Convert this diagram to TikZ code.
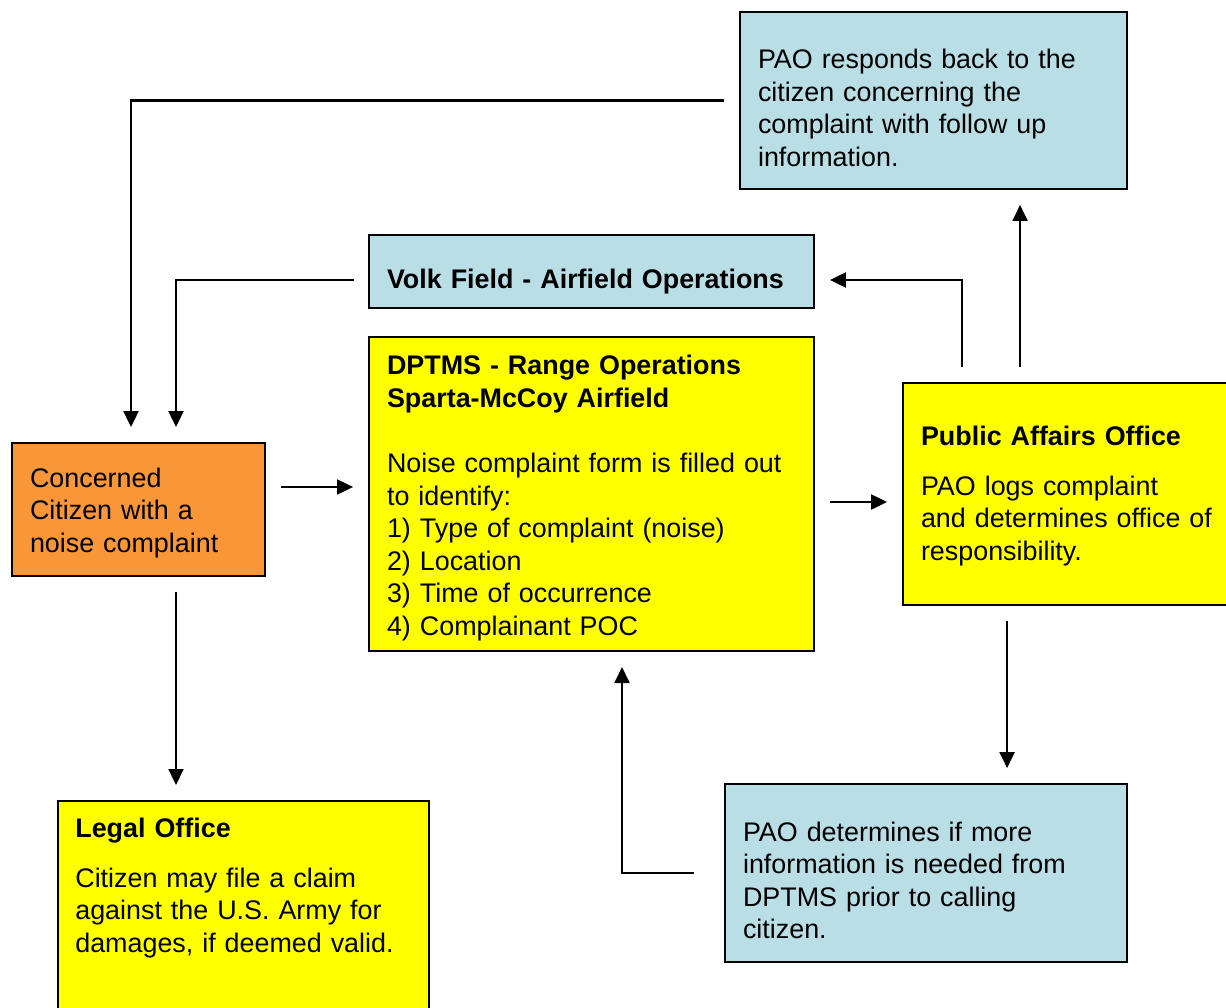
\documentclass[tikz,border=0pt]{standalone}
\usepackage{fontspec}
\setmainfont{Liberation Sans}
\usepackage{xcolor}
\usetikzlibrary{arrows.meta}
\definecolor{orangebox}{RGB}{248,150,56}
\definecolor{bluebox}{RGB}{185,222,229}
\definecolor{yellowbox}{RGB}{255,255,0}
\tikzset{
  txt/.style={align=left, font=\fontsize{15.3pt}{18.5pt}\selectfont},
  box/.style={txt, draw=black, line width=1.1pt, rectangle, inner xsep=0.36cm, inner ysep=0.2cm},
  push/.style={execute at begin node={\rule{0pt}{#1}}},
  arr/.style={black, line width=1.2pt, -{Triangle[length=0.32cm,width=0.3cm]}, shorten <=0.3cm, shorten >=0.3cm}
}

\begin{document}
\begin{tikzpicture}[x=0.02cm, y=-0.02cm]
\useasboundingbox (0,0) rectangle (1226,1007);
% boxes
\node[box, push=0.52cm, fill=orangebox, text width=4.34cm, minimum height=2.66cm] (citizen) at (138.5,509.5)
  {Concerned\\ Citizen with a\\ noise complaint};
\node[box, fill=bluebox, text width=8.18cm, minimum height=1.46cm, text height=0.8cm, text depth=0.1cm] (volk) at (591.5,271.5)
  {\textbf{Volk Field - Airfield Operations}};
\node[box, push=0.56cm, fill=yellowbox, text width=8.18cm, minimum height=6.24cm] (dptms) at (591.5,494)
  {\textbf{DPTMS - Range Operations}\\ \textbf{Sparta-McCoy Airfield}\\[0.66cm]
   Noise complaint form is filled out\\ to identify:\\ 1) Type of complaint (noise)\\
   2) Location\\ 3) Time of occurrence\\ 4) Complainant POC};
\node[box, push=0.68cm, fill=bluebox, text width=7.02cm, minimum height=3.54cm] (paofollow) at (933.5,100.5)
  {PAO responds back to the\\ citizen concerning the\\ complaint with follow up\\ information.};
\node[box, push=0.48cm, fill=yellowbox, text width=6.18cm, minimum height=4.44cm] (pao) at (1075.5,494)
  {\textbf{Public Affairs Office}\\[0.34cm] PAO logs complaint\\ and determines office of\\ responsibility.};
\node[box, push=0.68cm, fill=bluebox, text width=7.32cm, minimum height=3.56cm] (paomore) at (926,873)
  {PAO determines if more\\ information is needed from\\ DPTMS prior to calling\\ citizen.};
\node[box, fill=yellowbox, minimum width=7.42cm, minimum height=4.8cm, anchor=north west,
  label={[txt, anchor=north west, text width=6.7cm, inner xsep=0.36cm, inner ysep=0.36cm]north west:
  {\textbf{Legal Office}\\[0.34cm] Citizen may file a claim\\ against the U.S. Army for\\ damages, if deemed valid.}}] (legal) at (57,800) {};

% connectors
\draw[arr] (paofollow.west) -| ([xshift=-0.15cm]citizen.north);
\draw[arr, shorten <=0.28cm] ([yshift=-0.17cm]volk.west) -| ([xshift=0.75cm]citizen.north);
\draw[arr] ([yshift=0.45cm]citizen.east) -- ([yshift=0.45cm]citizen.east -| dptms.west);
\draw[arr] ([yshift=-0.16cm]dptms.east) -- ([yshift=-0.16cm]dptms.east -| pao.west);
\draw[arr] ([xshift=1.2cm]pao.north west) |- ([yshift=-0.17cm]volk.east);
\draw[arr] ([xshift=2.36cm]pao.north west) -- ([xshift=2.36cm]pao.north west |- paofollow.south);
\draw[arr] ([xshift=2.1cm]pao.south west) -- ([xshift=2.1cm]pao.south west |- paomore.north);
\draw[arr, shorten <=0.6cm] (paomore.west) -| ([xshift=0.61cm]dptms.south);
\draw[arr] ([xshift=0.75cm]citizen.south) -- ([xshift=0.75cm]citizen.south |- legal.north);
\end{tikzpicture}
\end{document}
